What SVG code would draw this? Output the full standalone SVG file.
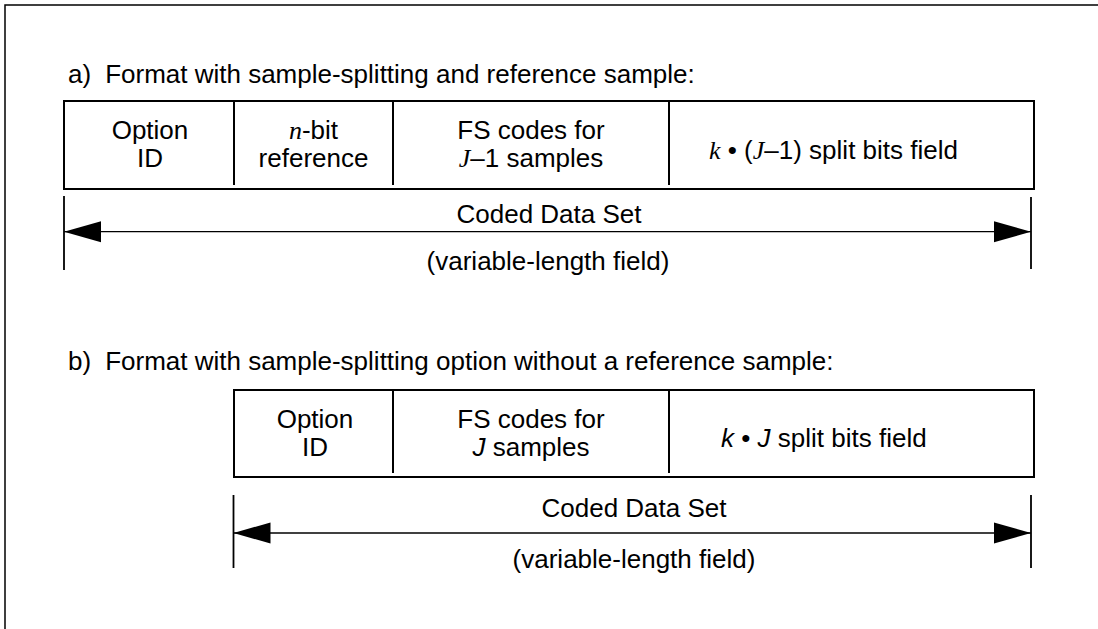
<svg xmlns="http://www.w3.org/2000/svg" width="1098" height="629" viewBox="0 0 1098 629">
<style>
  text { font-family: "Liberation Sans", Arial, sans-serif; font-size: 26px; fill: #000; }
  .mid { text-anchor: middle; }
  .ti { font-family: "Liberation Serif", "Times New Roman", serif; font-style: italic; }
  .si { font-style: italic; }
  .box { fill: #fff; stroke: #000; stroke-width: 2; }
  .div { stroke: #000; stroke-width: 2; }
  .tick { stroke: #000; stroke-width: 1.8; }
  .dim { stroke: #000; stroke-width: 1.3; fill: none; }
  .frame { fill: none; stroke: #000; stroke-width: 1.5; }
</style>
<defs>
  <marker id="ah" markerUnits="userSpaceOnUse" markerWidth="40" markerHeight="24" refX="37" refY="11" orient="auto-start-reverse">
    <polygon points="0,0.5 37,11 0,21.5" fill="#000"/>
  </marker>
</defs>
<rect x="0" y="0" width="1098" height="629" fill="#fff"/>
<rect class="frame" x="5" y="5" width="1200" height="700"/>

<g id="title-a"><text x="68" y="83">a)<tspan dx="14">Format with sample-splitting and reference sample:</tspan></text></g>

<g id="format-a">
  <rect class="box" x="64" y="101" width="970" height="88"/>
  <line class="div" x1="234" y1="101" x2="234" y2="185"/>
  <line class="div" x1="393" y1="101" x2="393" y2="185"/>
  <line class="div" x1="669" y1="101" x2="669" y2="185"/>
  <g id="a-option"><text class="mid" x="150" y="139">Option</text><text class="mid" x="150" y="167">ID</text></g>
  <g id="a-ref"><text class="mid" x="313.5" y="139"><tspan class="ti">n</tspan>-bit</text><text class="mid" x="313.5" y="167">reference</text></g>
  <g id="a-fs"><text class="mid" x="531" y="139">FS codes for</text><text class="mid" x="531" y="167"><tspan class="ti">J</tspan>–1 samples</text></g>
  <g id="a-split"><text x="709" y="159"><tspan class="ti">k</tspan> • (<tspan class="ti">J</tspan>–1) split bits field</text></g>
</g>

<g id="connectors">
  <line class="tick" x1="64" y1="196" x2="64" y2="270"/>
  <line class="tick" x1="1031" y1="197" x2="1031" y2="269"/>
  <line class="dim" x1="64" y1="231.7" x2="1031" y2="231.7" marker-start="url(#ah)" marker-end="url(#ah)"/>
  <line class="tick" x1="233.5" y1="495" x2="233.5" y2="568"/>
  <line class="tick" x1="1031" y1="495" x2="1031" y2="568"/>
  <line class="dim" x1="233.5" y1="533" x2="1031" y2="533" marker-start="url(#ah)" marker-end="url(#ah)"/>
</g>

<g id="label-a"><text class="mid" x="549" y="223">Coded Data Set</text><text class="mid" x="548" y="270">(variable-length field)</text></g>

<g id="title-b"><text x="68" y="370">b)<tspan dx="14">Format with sample-splitting option without a reference sample:</tspan></text></g>

<g id="format-b">
  <rect class="box" x="234" y="390" width="800" height="87"/>
  <line class="div" x1="393" y1="390" x2="393" y2="473"/>
  <line class="div" x1="669" y1="390" x2="669" y2="473"/>
  <g id="b-option"><text class="mid" x="315" y="428">Option</text><text class="mid" x="315" y="456">ID</text></g>
  <g id="b-fs"><text class="mid" x="531" y="428">FS codes for</text><text class="mid" x="531" y="456"><tspan class="si">J</tspan> samples</text></g>
  <g id="b-split"><text x="721" y="447"><tspan class="si">k</tspan> • <tspan class="si">J</tspan> split bits field</text></g>
</g>

<g id="label-b"><text class="mid" x="634" y="517">Coded Data Set</text><text class="mid" x="634" y="568">(variable-length field)</text></g>
</svg>
